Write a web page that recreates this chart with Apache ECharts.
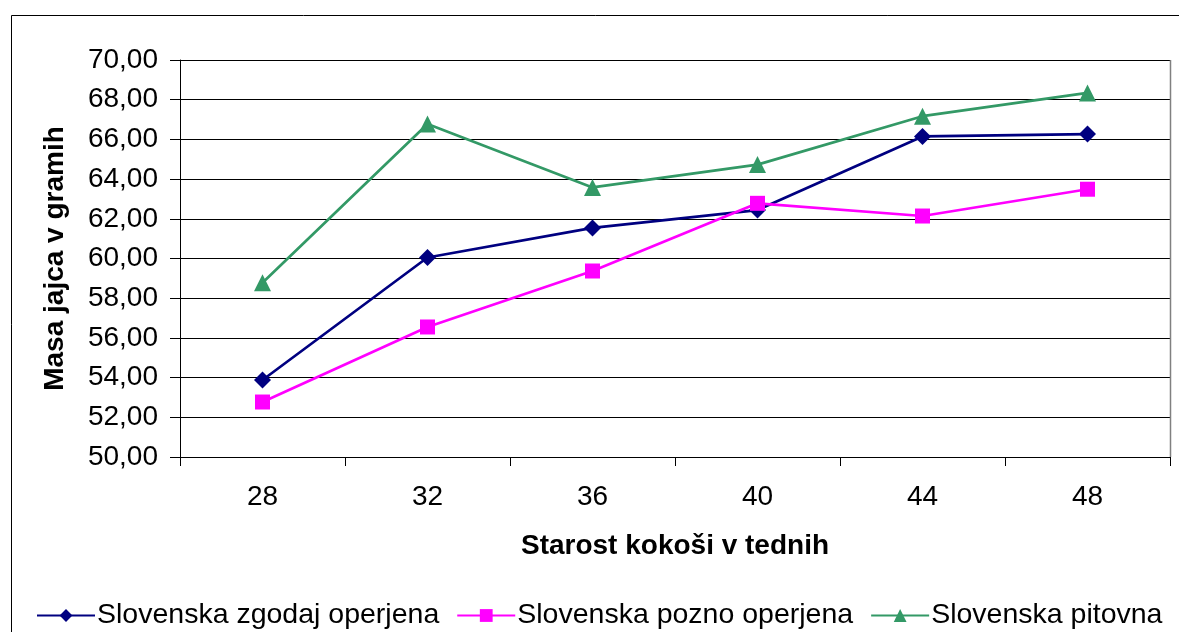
<!DOCTYPE html>
<html>
<head>
<meta charset="utf-8">
<script src="https://cdn.jsdelivr.net/npm/echarts@6/dist/echarts.min.js"></script>
<style>
html,body{margin:0;padding:0;background:#fff;}
#c{width:1179px;height:632px;}
</style>
</head>
<body>
<div id="c"></div>
<script>
const categories = ['28', '32', '36', '40', '44', '48'];
const seriesNames = ['Slovenska zgodaj operjena', 'Slovenska pozno operjena', 'Slovenska pitovna'];
const zgodaj = [53.88, 60.05, 61.54, 62.44, 66.15, 66.27];
const pozno = [52.77, 56.55, 59.37, 62.78, 62.14, 63.49];
const pitovna = [58.78, 66.78, 63.58, 64.73, 67.17, 68.34];
const yMin = 50, yMax = 70, yStep = 2;

const FONT = '"Liberation Sans", Arial, sans-serif';
const chart = echarts.init(document.getElementById('c'), null, {renderer: 'canvas'});
chart.setOption({
  animation: false,
  backgroundColor: '#ffffff',
  graphic: [{
    type: 'rect', silent: true, z: -1,
    shape: {x: 11.5, y: 15.5, width: 1180, height: 700},
    style: {fill: 'none', stroke: '#000', lineWidth: 1}
  }, {
    type: 'line', silent: true, z: 10,
    shape: {x1: 1170.5, y1: 60, x2: 1170.5, y2: 457},
    style: {stroke: '#808080', lineWidth: 1.5}
  }],
  grid: {left: 180, right: 9, top: 60, bottom: 175, containLabel: false},
  legend: {
    data: seriesNames,
    left: 31,
    top: 596,
    itemWidth: 58,
    itemHeight: 16,
    itemGap: 17,
    textStyle: {fontFamily: FONT, fontSize: 28.5, color: '#000', padding: [0, 0, 0, -3]}
  },
  xAxis: {
    type: 'category',
    data: categories,
    boundaryGap: true,
    name: 'Starost kokoši v tednih',
    nameLocation: 'middle',
    nameGap: 75,
    nameTextStyle: {fontFamily: FONT, fontSize: 28, fontWeight: 'bold', color: '#000'},
    axisLine: {lineStyle: {color: '#000', width: 1}},
    axisTick: {show: true, inside: false, length: 9, lineStyle: {color: '#000'}},
    axisLabel: {fontFamily: FONT, fontSize: 28, color: '#000', margin: 26},
    splitLine: {show: false}
  },
  yAxis: {
    type: 'value',
    min: yMin, max: yMax, interval: yStep,
    name: 'Masa jajca v gramih',
    nameLocation: 'middle',
    nameGap: 111,
    nameRotate: 90,
    nameTextStyle: {fontFamily: FONT, fontSize: 28, fontWeight: 'bold', color: '#000'},
    axisLine: {show: true, lineStyle: {color: '#000', width: 1}},
    axisTick: {show: true, inside: false, length: 10, lineStyle: {color: '#000'}},
    axisLabel: {
      fontFamily: FONT, fontSize: 28, color: '#000', margin: 22,
      formatter: v => v.toFixed(2).replace('.', ',')
    },
    splitLine: {show: true, lineStyle: {color: '#000', width: 1}}
  },
  series: [{
    name: seriesNames[0], type: 'line', data: zgodaj,
    symbol: 'diamond', symbolSize: 17,
    lineStyle: {color: '#000080', width: 2.7},
    itemStyle: {color: '#000080'}
  }, {
    name: seriesNames[1], type: 'line', data: pozno,
    symbol: 'rect', symbolSize: 15,
    lineStyle: {color: '#FF00FF', width: 2.7},
    itemStyle: {color: '#FF00FF'}
  }, {
    name: seriesNames[2], type: 'line', data: pitovna,
    symbol: 'triangle', symbolSize: 17,
    lineStyle: {color: '#339966', width: 2.7},
    itemStyle: {color: '#339966'}
  }]
});
</script>
</body>
</html>
